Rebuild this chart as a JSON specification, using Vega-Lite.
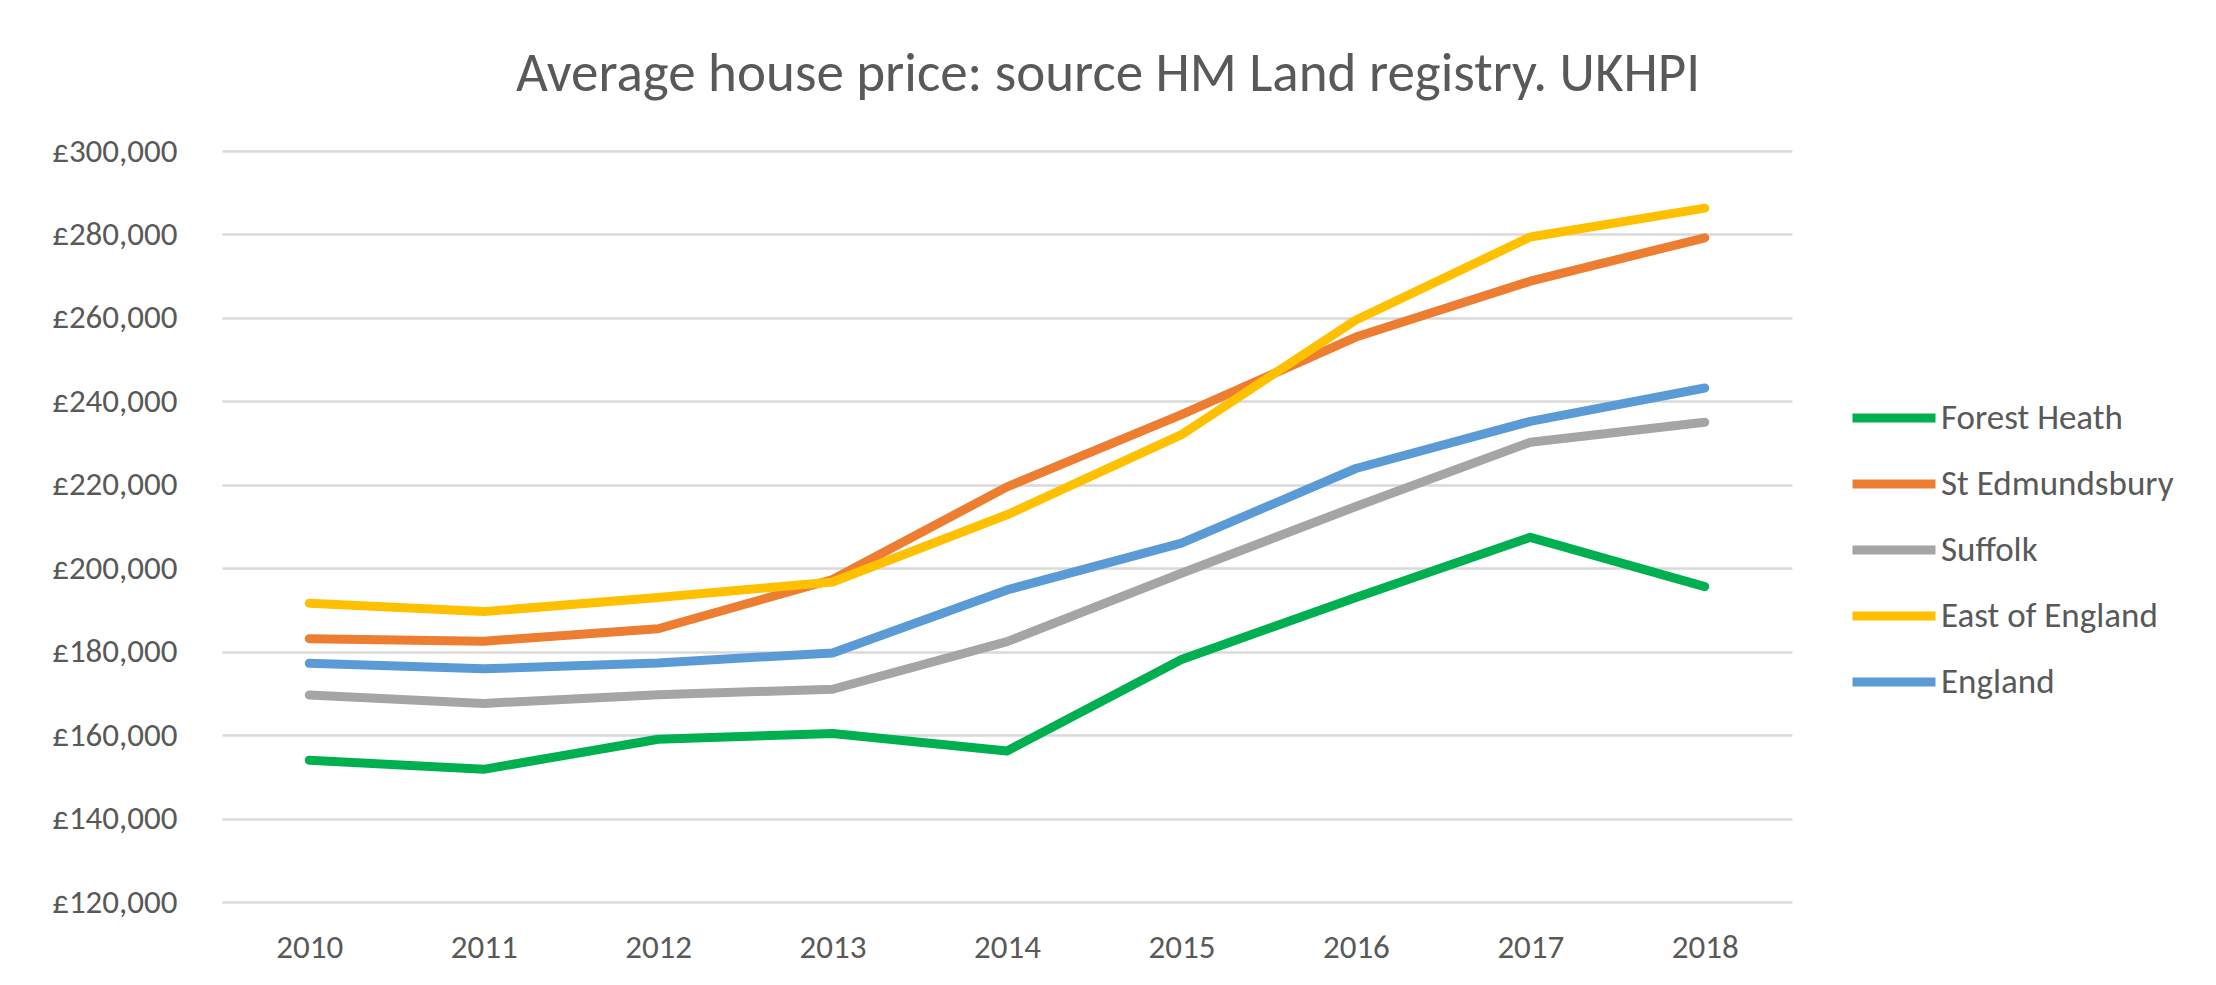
{
  "$schema": "https://vega.github.io/schema/vega-lite/v6.json",
  "width": 1570,
  "height": 751,
  "autosize": "none",
  "padding": {"left": 222, "top": 151, "right": 424, "bottom": 83},
  "background": "white",
  "title": {
    "text": "Average house price: source HM Land registry. UKHPI",
    "anchor": "middle",
    "frame": "group",
    "dx": 101,
    "dy": 74,
    "baseline": "alphabetic",
    "offset": 63,
    "font": "Calibri, Carlito, Lato, sans-serif",
    "fontSize": 55,
    "fontWeight": "normal",
    "color": "#595959"
  },
  "data": {
    "values": [
      {"year": "2010", "area": "Forest Heath", "price": 154000},
      {"year": "2011", "area": "Forest Heath", "price": 151800},
      {"year": "2012", "area": "Forest Heath", "price": 159000},
      {"year": "2013", "area": "Forest Heath", "price": 160400},
      {"year": "2014", "area": "Forest Heath", "price": 156200},
      {"year": "2015", "area": "Forest Heath", "price": 178100},
      {"year": "2016", "area": "Forest Heath", "price": 193000},
      {"year": "2017", "area": "Forest Heath", "price": 207400},
      {"year": "2018", "area": "Forest Heath", "price": 195600},
      {"year": "2010", "area": "St Edmundsbury", "price": 183100},
      {"year": "2011", "area": "St Edmundsbury", "price": 182500},
      {"year": "2012", "area": "St Edmundsbury", "price": 185500},
      {"year": "2013", "area": "St Edmundsbury", "price": 197300},
      {"year": "2014", "area": "St Edmundsbury", "price": 219500},
      {"year": "2015", "area": "St Edmundsbury", "price": 236800},
      {"year": "2016", "area": "St Edmundsbury", "price": 255400},
      {"year": "2017", "area": "St Edmundsbury", "price": 268800},
      {"year": "2018", "area": "St Edmundsbury", "price": 279200},
      {"year": "2010", "area": "Suffolk", "price": 169600},
      {"year": "2011", "area": "Suffolk", "price": 167600},
      {"year": "2012", "area": "Suffolk", "price": 169700},
      {"year": "2013", "area": "Suffolk", "price": 171000},
      {"year": "2014", "area": "Suffolk", "price": 182400},
      {"year": "2015", "area": "Suffolk", "price": 198800},
      {"year": "2016", "area": "Suffolk", "price": 214800},
      {"year": "2017", "area": "Suffolk", "price": 230200},
      {"year": "2018", "area": "Suffolk", "price": 235000},
      {"year": "2010", "area": "East of England", "price": 191600},
      {"year": "2011", "area": "East of England", "price": 189600},
      {"year": "2012", "area": "East of England", "price": 193000},
      {"year": "2013", "area": "East of England", "price": 196700},
      {"year": "2014", "area": "East of England", "price": 212800},
      {"year": "2015", "area": "East of England", "price": 232000},
      {"year": "2016", "area": "East of England", "price": 259500},
      {"year": "2017", "area": "East of England", "price": 279400},
      {"year": "2018", "area": "East of England", "price": 286300},
      {"year": "2010", "area": "England", "price": 177200},
      {"year": "2011", "area": "England", "price": 175900},
      {"year": "2012", "area": "England", "price": 177300},
      {"year": "2013", "area": "England", "price": 179700},
      {"year": "2014", "area": "England", "price": 194800},
      {"year": "2015", "area": "England", "price": 206000},
      {"year": "2016", "area": "England", "price": 223900},
      {"year": "2017", "area": "England", "price": 235200},
      {"year": "2018", "area": "England", "price": 243200}
    ]
  },
  "mark": {"type": "line", "strokeCap": "round", "strokeJoin": "round"},
  "encoding": {
    "x": {
      "field": "year",
      "type": "ordinal",
      "scale": {"type": "point", "padding": 0.5},
      "axis": {
        "title": null,
        "labelAngle": 0,
        "domain": false,
        "ticks": false,
        "grid": false,
        "labelPadding": 29,
        "labelFont": "Calibri, Carlito, Lato, sans-serif",
        "labelFontSize": 33,
        "labelColor": "#595959"
      }
    },
    "y": {
      "field": "price",
      "type": "quantitative",
      "scale": {"domain": [120000, 300000], "nice": false, "zero": false},
      "axis": {
        "title": null,
        "values": [120000, 140000, 160000, 180000, 200000, 220000, 240000, 260000, 280000, 300000],
        "format": ",.0f",
        "labelExpr": "'£' + datum.label",
        "domain": false,
        "ticks": false,
        "grid": true,
        "gridColor": "#d9d9d9",
        "gridWidth": 2.5,
        "labelPadding": 45,
        "labelFont": "Calibri, Carlito, Lato, sans-serif",
        "labelFontSize": 33,
        "labelColor": "#595959"
      }
    },
    "color": {
      "field": "area",
      "type": "nominal",
      "scale": {
        "domain": ["Forest Heath", "St Edmundsbury", "Suffolk", "East of England", "England"],
        "range": ["#00B050", "#ED7D31", "#A5A5A5", "#FFC000", "#5B9BD5"]
      },
      "legend": {"title": null}
    },
    "strokeWidth": {
      "field": "area",
      "type": "nominal",
      "scale": {
        "domain": ["Forest Heath", "St Edmundsbury", "Suffolk", "East of England", "England"],
        "range": [9, 9, 9, 9, 12]
      },
      "legend": {"title": null}
    }
  },
  "config": {
    "view": {"stroke": null},
    "legend": {
      "orient": "none",
      "legendX": 1626,
      "legendY": 221,
      "padding": 0,
      "symbolType": "stroke",
      "symbolSize": 6889,
      "symbolStrokeWidth": 9,
      "rowPadding": 2,
      "labelOffset": 1,
      "labelFont": "Calibri, Carlito, Lato, sans-serif",
      "labelFontSize": 35,
      "labelColor": "#595959",
      "labelLimit": 400
    }
  }
}
